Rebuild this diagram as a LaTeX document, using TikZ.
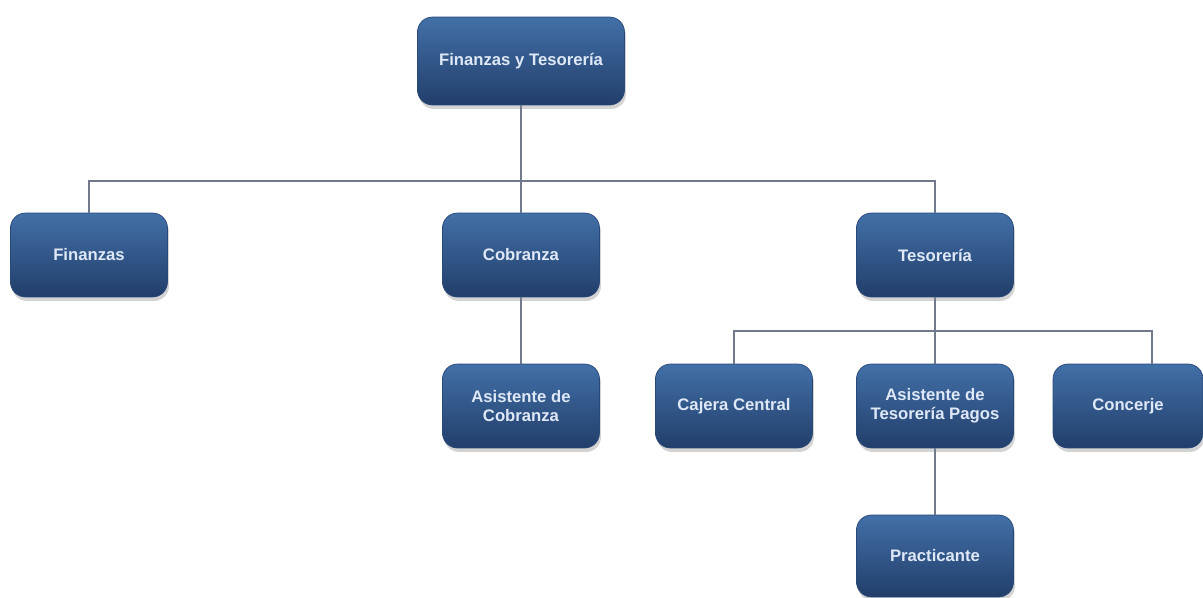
\documentclass[tikz,border=0pt]{standalone}
\usepackage{fontspec}
\setmainfont{Liberation Sans}
\usetikzlibrary{shadows,calc}
\definecolor{boxtop}{RGB}{66,112,168}
\definecolor{boxbot}{RGB}{34,62,106}
\definecolor{boxedge}{RGB}{40,72,120}
\definecolor{boxtext}{RGB}{222,232,246}
\definecolor{wire}{RGB}{112,122,140}
\tikzset{
  unit/.style={rounded corners=0.3cm, top color=boxtop, bottom color=boxbot,
    draw=boxedge, line width=0.4pt,
    drop shadow={opacity=0.35, shadow xshift=0.03cm, shadow yshift=-0.08cm},
    minimum width=3.14cm, minimum height=1.68cm, align=center,
    text=boxtext, font=\bfseries\fontsize{9.5}{11}\selectfont, inner sep=2pt},
  wireline/.style={draw=wire, line width=0.7pt}
}
\begin{document}
\begin{tikzpicture}[x=0.02cm, y=-0.02cm]
\useasboundingbox (0,0) rectangle (1203,598);
% boxes
\node[unit, minimum width=4.14cm, minimum height=1.76cm] (top) at (521,61) {Finanzas y Tesorería};
\node[unit] (fin) at (89,255) {Finanzas};
\node[unit] (cob) at (521,255) {Cobranza};
\node[unit] (tes) at (935,255) {Tesorería};
\node[unit] (acob) at (521,406) {Asistente de\\Cobranza};
\node[unit] (caj) at (734,406) {Cajera Central};
\node[unit] (ates) at (935,406) {Asistente de\\Tesorería Pagos};
\node[unit, minimum width=3.0cm] (conc) at (1128,406) {Concerje};
\node[unit, minimum height=1.64cm] (prac) at (935,556) {Practicante};
% bus levels
\coordinate (bus1) at (0,181);
\coordinate (bus2) at (0,331);
\coordinate (concx) at ($(conc.north)+(24,0)$);
% connectors
\draw[wireline] (top.south) -- (top.south |- bus1);
\draw[wireline] (fin.north) |- (tes.north |- bus1) -- (tes.north);
\draw[wireline] (cob.north) -- (cob.north |- bus1);
\draw[wireline] (cob.south) -- (acob.north);
\draw[wireline] (tes.south) -- (tes.south |- bus2);
\draw[wireline] (caj.north) |- (concx |- bus2) -- (concx);
\draw[wireline] (ates.north) -- (ates.north |- bus2);
\draw[wireline] (ates.south) -- (prac.north);
\end{tikzpicture}
\end{document}
